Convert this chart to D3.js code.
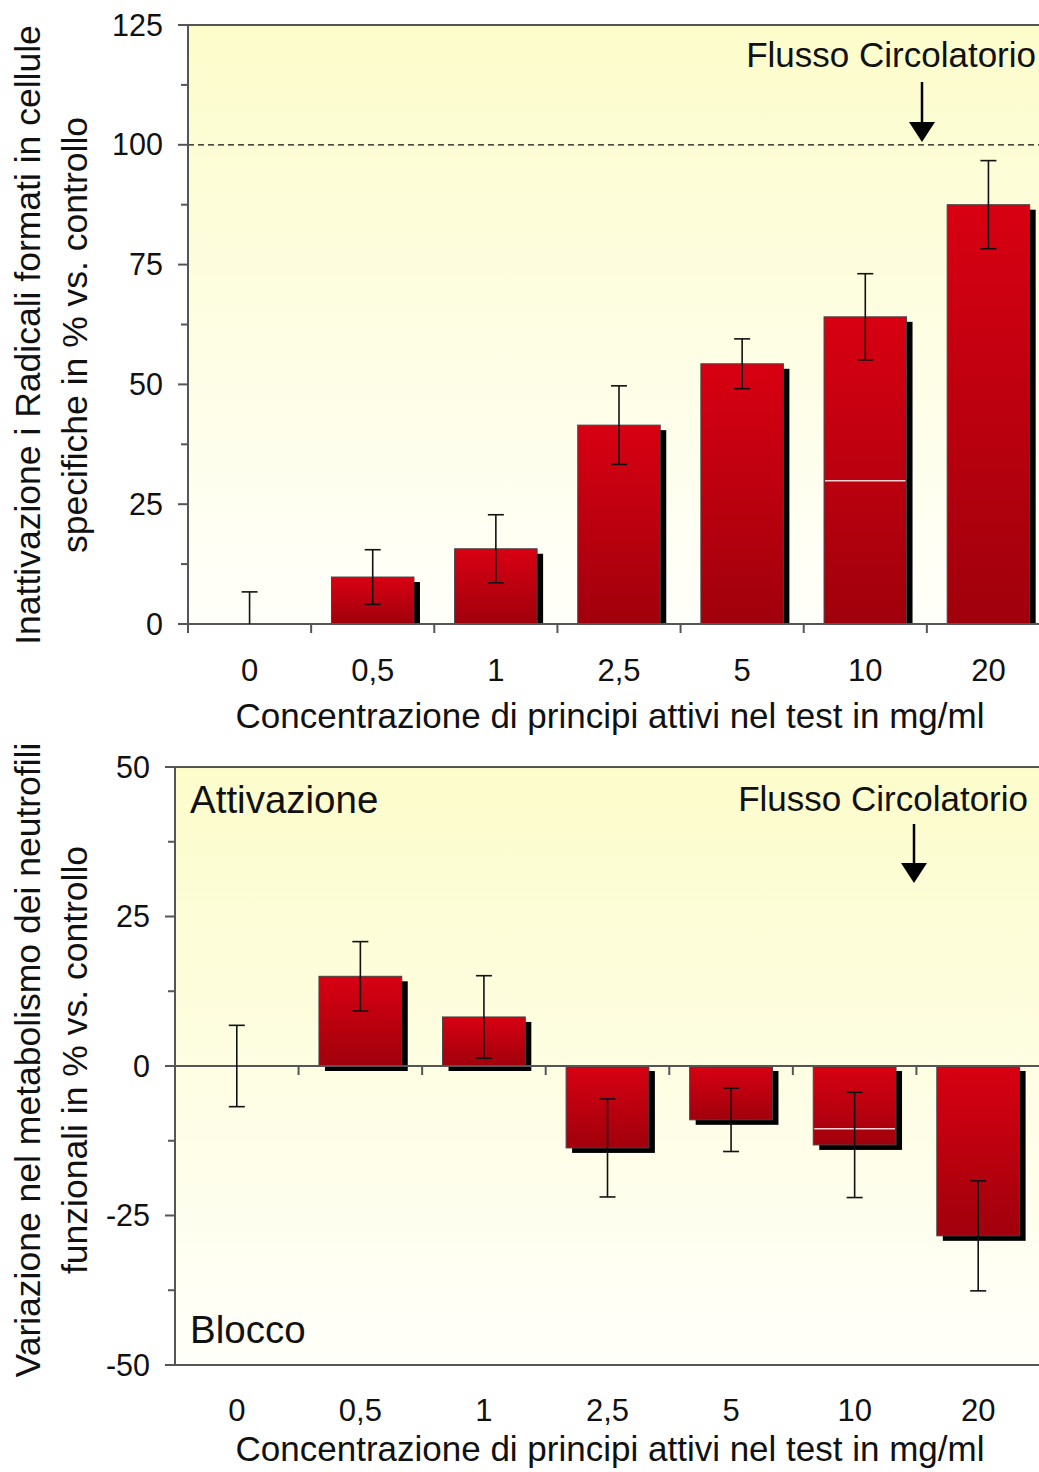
<!DOCTYPE html>
<html>
<head>
<meta charset="utf-8">
<title></title>
<style>
  body { margin: 0; background: #fff; }
  svg text { font-family: "Liberation Sans", Arial, sans-serif; fill: #111; }
  .bar { stroke: #444; stroke-width: 1; }
  .shadow { fill: #000; }
  .err { stroke: #111; stroke-width: 1.6; fill: none; }
  .axis { stroke: #555; stroke-width: 2; }
</style>
</head>
<body>
<svg class="drawing"></svg>
<script src="https://cdn.jsdelivr.net/npm/d3@7"></script>
<script>
var categories = ['0', '0,5', '1', '2,5', '5', '10', '20'];

// top panel: inattivazione radicali (%)
var topValues = [0, 9.8, 15.7, 41.5, 54.3, 64.1, 87.5];
var topErrors = [6.7, 5.7, 7.1, 8.2, 5.2, 9.0, 9.2];
var topTicks = [0, 25, 50, 75, 100, 125];
var topMinor = [12.5, 37.5, 62.5, 87.5, 112.5];

// bottom panel: variazione metabolismo (%)
var botValues = [0, 15.0, 8.2, -13.7, -9.0, -13.2, -28.4];
var botErrors = [6.8, 5.8, 6.9, 8.2, 5.3, 8.8, 9.2];
var botTicks = [-50, -25, 0, 25, 50];
var botMinor = [-37.5, -12.5, 12.5, 37.5];

var W = 1039, H = 1472;
var svg = d3.select('.drawing').attr('width', W).attr('height', H);

var defs = svg.append('defs');
var bg = defs.append('linearGradient').attr('id', 'bg')
    .attr('x1', 0).attr('y1', 0).attr('x2', 0).attr('y2', 1);
bg.append('stop').attr('offset', '0%').attr('stop-color', '#fcfccb');
bg.append('stop').attr('offset', '100%').attr('stop-color', '#fffffa');
var red = defs.append('linearGradient').attr('id', 'red')
    .attr('x1', 0).attr('y1', 0).attr('x2', 0).attr('y2', 1);
red.append('stop').attr('offset', '0%').attr('stop-color', '#d80012');
red.append('stop').attr('offset', '100%').attr('stop-color', '#a0000c');

function drawPanel(p) {
    var g = svg.append('g');
    var x = d3.scaleBand().domain(categories).range([p.left, p.right]).paddingInner(0).paddingOuter(0);
    var y = d3.scaleLinear().domain(p.domain).range([p.bottom, p.top]);
    var bw = x.bandwidth() * 0.67;

    g.append('rect')
        .attr('x', p.left).attr('y', p.top)
        .attr('width', p.right - p.left).attr('height', p.bottom - p.top)
        .attr('fill', 'url(#bg)');

    if (p.refLine != null)
        g.append('line')
            .attr('x1', p.left).attr('x2', p.right)
            .attr('y1', y(p.refLine)).attr('y2', y(p.refLine))
            .attr('stroke', '#111').attr('stroke-width', 1.3)
            .attr('stroke-dasharray', '6,4');

    var data = categories.map(function(c, i) {
        return { c: c, v: p.values[i], e: p.errors[i] };
    });
    var bars = data.filter(d => d.v !== 0);

    // drop shadows
    g.selectAll('.shadow').data(bars).enter().append('rect')
        .attr('class', 'shadow')
        .attr('x', d => x(d.c) + (x.bandwidth() - bw) / 2 + 6)
        .attr('y', d => Math.min(y(d.v), y(0)) + 5)
        .attr('width', bw)
        .attr('height', d => Math.min(Math.abs(y(d.v) - y(0)), p.bottom - Math.min(y(d.v), y(0)) - 5));

    g.selectAll('.bar').data(bars).enter().append('rect')
        .attr('class', 'bar')
        .attr('x', d => x(d.c) + (x.bandwidth() - bw) / 2)
        .attr('y', d => Math.min(y(d.v), y(0)))
        .attr('width', bw)
        .attr('height', d => Math.abs(y(d.v) - y(0)))
        .attr('fill', 'url(#red)');

    // white stray line inside the "10" bar
    g.append('line')
        .attr('x1', x('10') + (x.bandwidth() - bw) / 2 + 1)
        .attr('x2', x('10') + (x.bandwidth() + bw) / 2 - 1)
        .attr('y1', y(p.whiteLine)).attr('y2', y(p.whiteLine))
        .attr('stroke', '#f3d0d0').attr('stroke-width', 1.5);

    // x axis (zero line) with ticks between categories
    g.append('line').attr('class', 'axis')
        .attr('x1', p.left - 10).attr('x2', p.right)
        .attr('y1', y(0)).attr('y2', y(0))
        .attr('stroke-width', 1.5);
    g.selectAll('.xtick').data(categories).enter().append('line')
        .attr('class', 'axis')
        .attr('x1', d => x(d)).attr('x2', d => x(d))
        .attr('y1', y(0)).attr('y2', y(0) + 9)
        .attr('stroke-width', 1.5);

    // error bars
    var eg = g.selectAll('.errg').data(data).enter().append('g');
    var cx = d => x(d.c) + x.bandwidth() / 2;
    eg.append('line').attr('class', 'err')
        .attr('x1', cx).attr('x2', cx)
        .attr('y1', d => y(d.v + d.e))
        .attr('y2', d => p.clipZero && d.v === 0 ? y(0) : y(d.v - d.e));
    eg.append('line').attr('class', 'err')
        .attr('x1', d => cx(d) - 8).attr('x2', d => cx(d) + 8)
        .attr('y1', d => y(d.v + d.e)).attr('y2', d => y(d.v + d.e));
    eg.filter(d => !(p.clipZero && d.v === 0)).append('line').attr('class', 'err')
        .attr('x1', d => cx(d) - 8).attr('x2', d => cx(d) + 8)
        .attr('y1', d => y(d.v - d.e)).attr('y2', d => y(d.v - d.e));

    // frame: top and bottom border, y axis
    g.append('line').attr('class', 'axis')
        .attr('x1', p.left - 10).attr('x2', p.right)
        .attr('y1', p.top).attr('y2', p.top);
    if (p.bottomBorder)
        g.append('line').attr('class', 'axis')
            .attr('x1', p.left - 10).attr('x2', p.right)
            .attr('y1', p.bottom).attr('y2', p.bottom);
    g.append('line').attr('class', 'axis')
        .attr('x1', p.left).attr('x2', p.left)
        .attr('y1', p.top).attr('y2', p.bottom + (p.bottomBorder ? 0 : 9));
    g.selectAll('.ytick').data(p.ticks).enter().append('line')
        .attr('class', 'axis')
        .attr('x1', p.left - 10).attr('x2', p.left)
        .attr('y1', d => y(d)).attr('y2', d => y(d));
    g.selectAll('.ymin').data(p.minor).enter().append('line')
        .attr('class', 'axis')
        .attr('x1', p.left - 7).attr('x2', p.left)
        .attr('y1', d => y(d)).attr('y2', d => y(d));
    g.selectAll('.ylab').data(p.ticks).enter().append('text')
        .attr('x', p.left - 25).attr('y', d => y(d))
        .attr('dy', '0.35em').attr('text-anchor', 'end')
        .attr('font-size', 30.5).text(d => d);

    g.selectAll('.xlab').data(categories).enter().append('text')
        .attr('x', d => x(d) + x.bandwidth() / 2).attr('y', p.xLabelY)
        .attr('dy', '0.35em').attr('text-anchor', 'middle')
        .attr('font-size', 31).text(d => d);
    g.append('text')
        .attr('x', 610).attr('y', p.xTitleY)
        .attr('dy', '0.35em').attr('text-anchor', 'middle')
        .attr('font-size', 35).text('Concentrazione di principi attivi nel test in mg/ml');

    var ymid = p.labelMid;
    p.yTitle.forEach(function(t, i) {
        g.append('text')
            .attr('transform', 'translate(' + (28 + i * 47) + ',' + ymid + ') rotate(-90)')
            .attr('text-anchor', 'middle').attr('dy', '0.35em')
            .attr('font-size', 35.5).text(t);
    });

    // annotation with arrow
    g.append('text')
        .attr('x', p.noteX).attr('y', p.noteY)
        .attr('dy', '0.35em').attr('text-anchor', 'end')
        .attr('font-size', 35).text('Flusso Circolatorio');
    g.append('line')
        .attr('x1', p.arrowX).attr('x2', p.arrowX)
        .attr('y1', p.arrowY0).attr('y2', p.arrowY1 - 18)
        .attr('stroke', '#000').attr('stroke-width', 2.5);
    g.append('path')
        .attr('d', 'M' + (p.arrowX - 13) + ',' + (p.arrowY1 - 20) + 'L' + (p.arrowX + 13) + ',' + (p.arrowY1 - 20) + 'L' + p.arrowX + ',' + p.arrowY1 + 'Z')
        .attr('fill', '#000');

    return g;
}

drawPanel({
    left: 188, right: 1050, top: 25, bottom: 624,
    domain: [0, 125], ticks: topTicks, minor: topMinor,
    values: topValues, errors: topErrors,
    refLine: 100, whiteLine: 29.9, clipZero: true, bottomBorder: false,
    xLabelY: 670, xTitleY: 716,
    yTitle: ['Inattivazione i Radicali formati in cellule', 'specifiche in % vs. controllo'],
    labelMid: 335,
    noteX: 1036, noteY: 55, arrowX: 922, arrowY0: 82, arrowY1: 142
});

var bot = drawPanel({
    left: 175, right: 1040, top: 767, bottom: 1365,
    domain: [-50, 50], ticks: botTicks, minor: botMinor,
    values: botValues, errors: botErrors,
    refLine: null, whiteLine: -10.5, clipZero: false, bottomBorder: true,
    xLabelY: 1410, xTitleY: 1449,
    yTitle: ['Variazione nel metabolismo dei neutrofili', 'funzionali in % vs. controllo'],
    labelMid: 1060,
    noteX: 1028, noteY: 799, arrowX: 914, arrowY0: 824, arrowY1: 883
});

bot.append('text').attr('x', 190).attr('y', 800).attr('dy', '0.35em')
    .attr('font-size', 38.5).text('Attivazione');
bot.append('text').attr('x', 190).attr('y', 1330).attr('dy', '0.35em')
    .attr('font-size', 38.5).text('Blocco');
</script>
</body>
</html>
